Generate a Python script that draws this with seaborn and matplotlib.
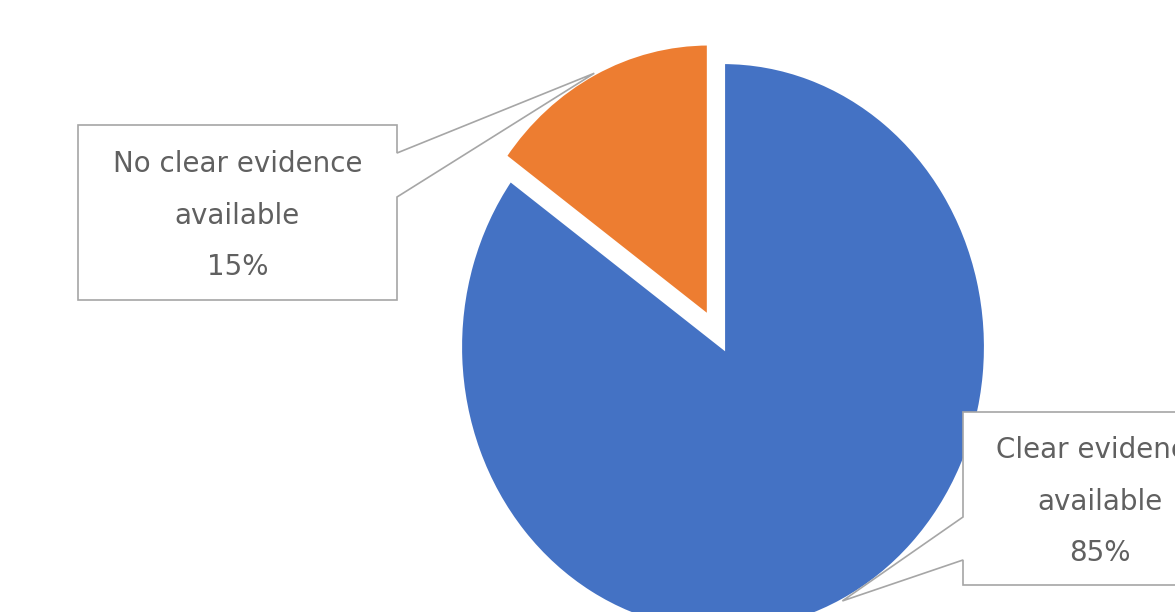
import numpy as np
import seaborn as sns
import matplotlib.pyplot as plt
from matplotlib.patches import Polygon

labels = ['Clear evidence\navailable', 'No clear evidence\navailable']
values = [85, 15]
colors = ['#4472C4', '#ED7D31']

sns.set_theme(style='white')
plt.rcParams['font.family'] = ['DejaVu Sans']

W, H = 1175, 612
fig = plt.figure(figsize=(W / 100, H / 100), dpi=100)
ax = fig.add_axes([0, 0, 1, 1])

# pie centre and radii in pixels (chart is slightly stretched vertically)
cx, cy, rx, ry = 723, 347, 263, 285


def px(x, y):
    return (x - cx) / rx, (cy - y) / ry


wedges, _ = ax.pie(values, colors=colors, startangle=90, counterclock=False,
                   explode=[0, 0.118],
                   wedgeprops=dict(edgecolor='white', linewidth=3))
wedges[1].set_radius(0.96)

ax.set_aspect('auto')
ax.set_xlim(px(0, 0)[0], px(W, 0)[0])
ax.set_ylim(px(0, H)[1], px(0, 0)[1])
ax.axis('off')


def anchor(w):
    mid = np.deg2rad((w.theta1 + w.theta2) / 2)
    return w.center[0] + w.r * np.cos(mid), w.center[1] + w.r * np.sin(mid)


# callout boxes: (left, top, right, bottom, leader y1, leader y2) in pixels
boxes = [
    (963, 412, 1237, 585, 517, 560),
    (78, 125, 397, 300, 153, 197),
]

for w, lab, val, (l, t, r, b, y1, y2) in zip(wedges, labels, values, boxes):
    ax_pt = anchor(w)
    if ax_pt[0] > 0:
        pts = [px(l, t), px(r, t), px(r, b), px(l, b), px(l, y2), ax_pt, px(l, y1)]
    else:
        pts = [px(l, t), px(r, t), px(r, y1), ax_pt, px(r, y2), px(r, b), px(l, b)]
    ax.add_patch(Polygon(pts, closed=True, facecolor='white', edgecolor='#A6A6A6',
                         linewidth=1.2, zorder=3))
    tx, ty = px((l + r) / 2, (t + b) / 2 + 3)
    ax.text(tx, ty, f'{lab}\n{val}%', ha='center', va='center', fontsize=20,
            color='#606060', linespacing=2.08, zorder=4)

fig.savefig('out.png', dpi=100)
